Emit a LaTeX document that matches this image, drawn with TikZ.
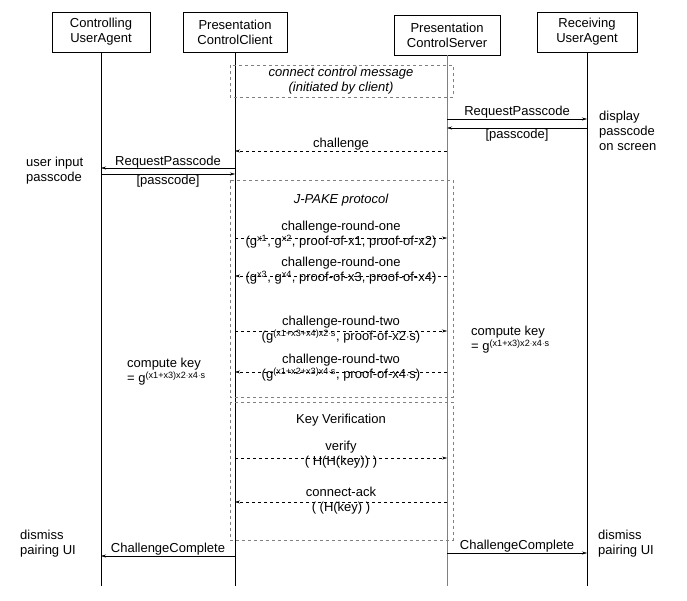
\documentclass[tikz,border=0pt]{standalone}
\usepackage{fontspec}
\setmainfont{Liberation Sans}
\usetikzlibrary{arrows.meta,positioning}

\tikzset{
  actor/.style={draw,thin,align=center,minimum width=98pt,minimum height=40pt,inner sep=1pt},
  life/.style={thin},
  msg/.style={-{Stealth[length=5pt,width=3pt]},thin},
  dmsg/.style={msg,dashed},
  frame/.style={draw=gray,dashed,thin},
  note/.style={align=left,inner sep=0pt,anchor=west},
  lbl/.style={inner sep=1pt}
}

\begin{document}
\begin{tikzpicture}[x=1pt,y=-1pt,font=\fontsize{13}{15}\selectfont]
    \useasboundingbox (0,0) rectangle (687,600);

    % Participants
    \node [actor] (cua) at (101,32) {Controlling\\UserAgent};
    \node [actor,minimum width=104pt] (pcc) at (235,32) {Presentation\\ControlClient};
    \node [actor,minimum width=106pt] (pcs) at (447,35) {Presentation\\ControlServer};
    \node [actor,minimum width=100pt] (rua) at (587,32) {Receiving\\UserAgent};

    % Lifelines
    \coordinate (cuaE) at (101,586);
    \coordinate (pccE) at (235,586);
    \coordinate (pcsE) at (447,586);
    \coordinate (ruaE) at (587,586);
    \draw [life] (cua) -- (cuaE);
    \draw [life] (pcc) -- (pccE);
    \draw [life,gray,semithick] (pcs) -- (pcsE);
    \draw [life] (rua) -- (ruaE);

    % Frames
    \draw [frame] (230,65) rectangle (453,97);
    \node [font=\fontsize{13}{15}\selectfont\itshape,align=center] (ccm) at (341,81) {connect control message\\(initiated by client)};
    \draw [frame] (230,180) rectangle (453,397);
    \node [font=\fontsize{13}{15}\selectfont\itshape] (jp) at (341,200) {J-PAKE protocol};
    \draw [frame] (230,402) rectangle (453,540);
    \node (kv) at (341,420) {Key Verification};

    % Passcode request
    \coordinate (a1) at (447,119); \coordinate (b1) at (587,119);
    \draw [msg] (a1) -- (b1) node [midway,above,lbl] {RequestPasscode};
    \coordinate (a2) at (587,128); \coordinate (b2) at (447,128);
    \draw [msg] (a2) -- (b2) node [midway,below,lbl] {[passcode]};
    \node [note] (disp) at (599,131) {display\\passcode\\on screen};

    \coordinate (a3) at (447,151); \coordinate (b3) at (235,151);
    \draw [dmsg] (a3) -- (b3) node [midway,above,lbl] {challenge};

    \coordinate (a4) at (235,168); \coordinate (b4) at (101,168);
    \draw [msg] (a4) -- (b4) node [midway,above,lbl,inner sep=0pt] {RequestPasscode};
    \coordinate (a5) at (101,174); \coordinate (b5) at (235,174);
    \draw [msg] (a5) -- (b5) node [midway,below,lbl] {[passcode]};
    \node [note] (inp) at (26,171) {user input\\passcode};

    % J-PAKE round one
    \coordinate (a6) at (235,238); \coordinate (b6) at (447,238);
    \draw [dmsg] (a6) -- (b6);
    \node [align=center,inner sep=0pt] (r1a) at (341,235) {challenge-round-one\\(g\textsuperscript{x1}, g\textsuperscript{x2}, proof-of-x1, proof-of-x2)};
    \coordinate (a7) at (447,276); \coordinate (b7) at (235,276);
    \draw [dmsg] (a7) -- (b7);
    \node [align=center,inner sep=0pt] (r1b) at (341,271) {challenge-round-one\\(g\textsuperscript{x3}, g\textsuperscript{x4}, proof-of-x3, proof-of-x4)};

    % J-PAKE round two
    \coordinate (a8) at (235,331); \coordinate (b8) at (447,331);
    \draw [dmsg] (a8) -- (b8);
    \node [align=center,inner sep=0pt] (r2a) at (341,330) {challenge-round-two\\(g\textsuperscript{(x1+x3+x4)x2$\cdot$s}, proof-of-x2$\cdot$s)};
    \coordinate (a9) at (447,372); \coordinate (b9) at (235,372);
    \draw [dmsg] (a9) -- (b9);
    \node [align=center,inner sep=0pt] (r2b) at (341,368) {challenge-round-two\\(g\textsuperscript{(x1+x2+x3)x4$\cdot$s}, proof-of-x4$\cdot$s)};

    \node [note] (ckr) at (471,340) {compute key\\= g\textsuperscript{(x1+x3)x2$\cdot$x4$\cdot$s}};
    \node [note] (ckl) at (127,372) {compute key\\= g\textsuperscript{(x1+x3)x2$\cdot$x4$\cdot$s}};

    % Key verification
    \coordinate (a10) at (235,458); \coordinate (b10) at (447,458);
    \draw [dmsg] (a10) -- (b10);
    \node [align=center,inner sep=0pt] (vf) at (341,455) {verify\\( H(H(key)) )};
    \coordinate (a11) at (447,502); \coordinate (b11) at (235,502);
    \draw [dmsg] (a11) -- (b11);
    \node [align=center,inner sep=0pt] (ack) at (341,501) {connect-ack\\( (H(key) )};

    % Completion
    \coordinate (a12) at (235,556); \coordinate (b12) at (101,556);
    \draw [msg] (a12) -- (b12) node [midway,above,lbl] {ChallengeComplete};
    \coordinate (a13) at (447,553); \coordinate (b13) at (587,553);
    \draw [msg] (a13) -- (b13) node [midway,above,lbl] {ChallengeComplete};
    \node [note] (dl) at (20,544) {dismiss\\pairing UI};
    \node [note] (dr) at (598,544) {dismiss\\pairing UI};

\end{tikzpicture}
\end{document}
